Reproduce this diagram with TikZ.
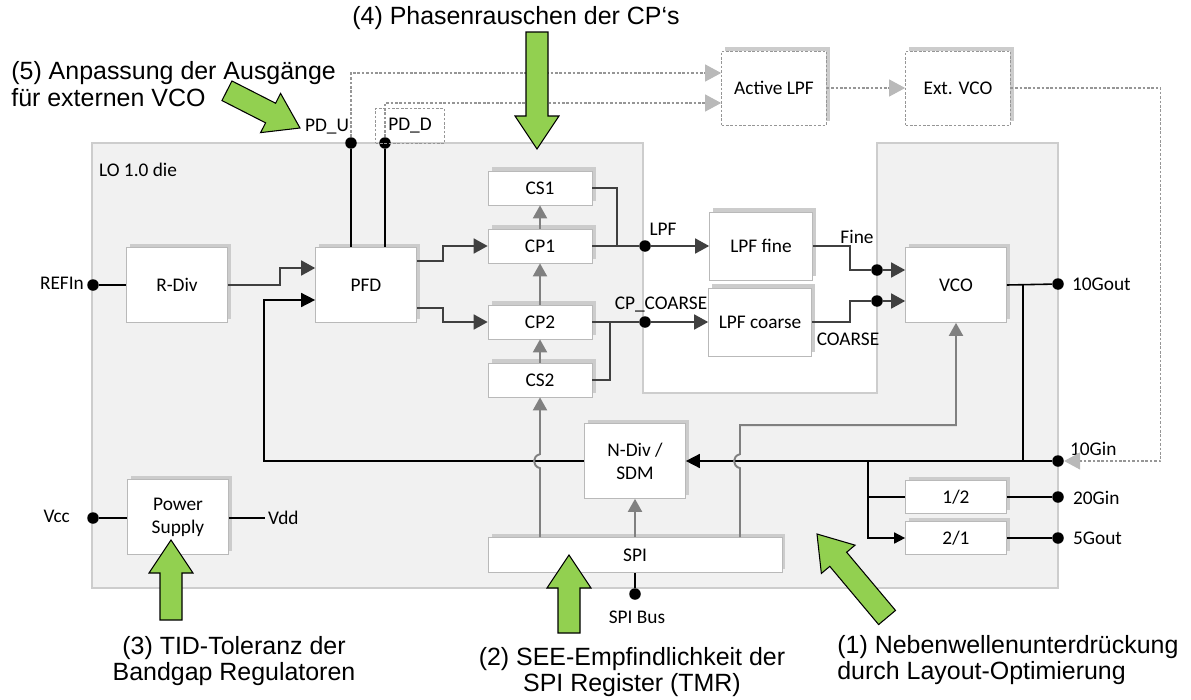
\documentclass[tikz,border=0pt]{standalone}
\usepackage{fontspec}
\setmainfont{Liberation Sans}
\newfontfamily\boxfont{Carlito}
\usetikzlibrary{arrows.meta,shadows,calc}

\definecolor{diegray}{RGB}{241,241,241}
\definecolor{edgegray}{RGB}{205,205,205}
\definecolor{siggray}{RGB}{64,64,64}
\definecolor{ctrlgray}{RGB}{128,128,128}
\definecolor{dashgray}{RGB}{150,150,150}
\definecolor{notegreen}{RGB}{146,208,80}

\tikzset{
  blk/.style={draw=gray!55, fill=white, line width=0.4pt, general shadow={fill=gray!40, shadow xshift=2pt, shadow yshift=2pt}, font=\boxfont\fontsize{11}{13}\selectfont, inner sep=1pt, align=center},
  bigblk/.style={blk, minimum width=2.02cm, minimum height=1.5cm},
  cpblk/.style={blk, minimum width=2.08cm, minimum height=0.68cm},
  lpfblk/.style={blk, minimum width=2.06cm, minimum height=1.36cm},
  divblk/.style={blk, minimum width=2.02cm, minimum height=0.66cm},
  extblk/.style={blk, draw=dashgray, dash pattern=on 1.5pt off 1pt, minimum width=2.1cm, minimum height=1.48cm},
  dashbox/.style={draw=dashgray, dash pattern=on 1.5pt off 1pt, line width=0.6pt, minimum width=1.38cm, minimum height=0.7cm, font=\boxfont\fontsize{11}{13}\selectfont},
  portdot/.style={circle, fill=black, inner sep=0pt, minimum size=0.23cm},
  lbl/.style={font=\boxfont\fontsize{11}{13}\selectfont, inner sep=1pt},
  note/.style={font=\fontsize{14.2}{15}\selectfont, inner sep=0pt},
  die/.style={fill=diegray, draw=edgegray, line width=1.2pt},
  sig/.style={draw=siggray, line width=1pt},
  sigtip/.style={sig, -{Triangle[length=0.28cm,width=0.3cm]}},
  wire/.style={draw=black, line width=0.9pt},
  wiretip/.style={wire, -{Triangle[length=0.28cm,width=0.28cm]}},
  ctrl/.style={draw=ctrlgray, line width=1.1pt, -{Triangle[length=0.26cm,width=0.28cm]}},
  dsh/.style={draw=dashgray, line width=0.6pt, dash pattern=on 1.5pt off 1pt, -{Triangle[length=0.32cm,width=0.34cm,color=gray!55,fill=gray!55]}},
  hint/.style={fill=notegreen, draw=black, line width=0.6pt, line join=miter}
}

% green block arrow: tip, angle, length
\newcommand{\hintarrow}[3]{%
  \draw[hint, shift={#1}, rotate=#2] (0,0) -- (-33,22) -- (-33,11) -- (-#3,11) -- (-#3,-11) -- (-33,-11) -- (-33,-22) -- cycle;}

\begin{document}
\begin{tikzpicture}[x=0.02cm, y=-0.02cm]
\useasboundingbox (0,0) rectangle (1191,700);

% die
\draw[die] (92,143) -- (643,143) -- (643,393) -- (877,393) -- (877,143) -- (1058,143) -- (1058,588) -- (92,588) -- cycle;
\node[lbl, anchor=west] (dielbl) at (97,170) {LO 1.0 die};

% blocks
\node[bigblk] (rdiv) at (177,285) {R-Div};
\node[bigblk] (pfd) at (366,285) {PFD};
\node[cpblk] (cs1) at (540,188) {CS1};
\node[cpblk] (cp1) at (540,246) {CP1};
\node[cpblk] (cp2) at (540,322) {CP2};
\node[cpblk] (cs2) at (540,380) {CS2};
\node[lpfblk] (lpffine) at (761,246) {LPF fine};
\node[lpfblk] (lpfcoarse) at (760,322) {LPF coarse};
\node[bigblk] (vco) at (956,285) {VCO};
\node[bigblk] (ndiv) at (635,461) {N-Div /\\SDM};
\node[bigblk] (psu) at (178,517) {Power\\Supply};
\node[blk, minimum width=5.88cm, minimum height=0.7cm] (spi) at (635,555) {SPI};
\node[divblk] (div12) at (956,497) {1/2};
\node[divblk] (div21) at (956,538) {2/1};
\node[extblk] (alpf) at (774,88) {Active LPF};
\node[extblk] (extvco) at (958,88) {Ext. VCO};

% ports
\node[portdot] (refin) at (93,285) {};
\node[portdot] (vcc) at (93,518) {};
\node[portdot] (pdu) at (351,143) {};
\node[portdot] (pdd) at (385,143) {};
\node[portdot] (lpfpt) at (645,246) {};
\node[portdot] (cpcpt) at (645,322) {};
\node[portdot] (finept) at (877,270) {};
\node[portdot] (coarsept) at (877,301) {};
\node[portdot] (gout10) at (1058,284) {};
\node[portdot] (gin10) at (1058,461) {};
\node[portdot] (gin20) at (1058,497) {};
\node[portdot] (gout5) at (1058,538) {};
\node[portdot] (spibus) at (635,594) {};
\coordinate (vdd) at (265,518);
\coordinate (vtap) at (1023,284);
\coordinate (dtap) at (868,461);

% port labels
\node[lbl, anchor=east] (refinlbl) at (86,283) {REFIn};
\node[lbl, anchor=east] (vcclbl) at (72,516) {Vcc};
\node[lbl, anchor=west] (vddlbl) at (266,518) {Vdd};
\node[lbl, anchor=west] (pdulbl) at (303,127) {PD\_U};
\node[dashbox] (pddlbl) at (410,126) {PD\_D};
\node[lbl] (lpflbl) at (663,229) {LPF};
\node[lbl] (cpclbl) at (661,305) {CP\_COARSE};
\node[lbl] (finelbl) at (857,237) {Fine};
\node[lbl] (coarselbl) at (848,339) {COARSE};
\node[lbl, anchor=west] (gout10lbl) at (1070,284) {10Gout};
\node[lbl, anchor=west] (gin10lbl) at (1068,449) {10Gin};
\node[lbl, anchor=west] (gin20lbl) at (1071,498) {20Gin};
\node[lbl, anchor=west] (gout5lbl) at (1071,538) {5Gout};
\node[lbl] (spibuslbl) at (637,617) {SPI Bus};

% signal path
\draw[wire] (refin) -- (rdiv.west);
\draw[sigtip] (rdiv.east) -- ++(52,0) |- ($(pfd.west)+(0,-17)$);
\draw[sigtip] ($(pfd.east)+(0,-24)$) -- ++(26,0) |- (cp1.west);
\draw[sigtip] ($(pfd.east)+(0,23)$) -- ++(26,0) |- (cp2.west);
\draw[sig] (cp1.east) -- (lpfpt);
\draw[sig] (cs1.east) -- ++(25,0) -- ++(0,58);
\draw[sig] (cp2.east) -- (cpcpt);
\draw[sig] (cs2.east) -- ++(18,0) -- ++(0,-58);
\draw[sigtip] (lpfpt) -- (lpffine.west);
\draw[sigtip] (cpcpt) -- (lpfcoarse.west);
\draw[sig] (lpffine.east) -- ++(37,0) |- (finept);
\draw[sig] (lpfcoarse.east) -- ++(38,0) |- (coarsept);
\draw[sigtip] (finept) -- (finept -| vco.west);
\draw[sigtip] (coarsept) -- (coarsept -| vco.west);

% outputs and feedback
\draw[wire] (pdu) -- (pdu |- pfd.north);
\draw[wire] (pdd) -- (pdd |- pfd.north);
\draw[wire] (vco.east) -- (gout10);
\draw[wire] (vtap) -- (vtap |- gin10);
\draw[wiretip] (gin10) -- (ndiv.east);
\draw[wiretip] (ndiv.west) -- ++(-320,0) |- ($(pfd.west)+(0,15)$);
\draw[wire] (dtap) |- (div12.west);
\draw[wire, -{Triangle[length=0.22cm,width=0.22cm]}] (dtap) |- (div21.west);
\draw[wire] (div12.east) -- (gin20);
\draw[wire] (div21.east) -- (gout5);
\draw[wire] (vcc) -- (psu.west |- vcc);
\draw[wire] (psu.east |- vdd) -- (vdd);
\draw[wire] (spi.south) -- (spibus);

% control lines
\draw[ctrl] (cs2.north) -- (cp2.south);
\draw[ctrl] (cp2.north) -- (cp1.south);
\draw[ctrl] (cp1.north) -- (cs1.south);
\draw[ctrl] (spi.north) -- (ndiv.south);
\draw[ctrl] (spi.north -| cs2.south) -- ++(0,-69) .. controls +(-8,-2) and +(-8,2) .. ++(0,-14) -- (cs2.south);
\draw[ctrl] ($(spi.north)+(105,0)$) -- ++(0,-69) .. controls +(-8,-2) and +(-8,2) .. ++(0,-14) -- ++(0,-29) -| (vco.south);

% external loop
\draw[dsh] (pdu) |- ($(alpf.west)+(0,-15)$);
\draw[dsh] (pdd) |- ($(alpf.west)+(0,15)$);
\draw[dsh] (alpf) -- (extvco);
\draw[dsh] (extvco.east) -- ++(150,0) |- (gin10);

% notes
\hintarrow{(537,149)}{-90}{117}
\hintarrow{(300,128)}{-27}{82}
\hintarrow{(171,540)}{90}{80}
\hintarrow{(569,555)}{90}{78}
\hintarrow{(817,534)}{130}{109}
\node[note] (note4) at (516,18) {(4) Phasenrauschen der CP‘s};
\node[note, align=left, anchor=west] (note5) at (11,84) {(5) Anpassung der Ausgänge\\für externen VCO};
\node[note, align=center] (note3) at (234,661) {(3) TID-Toleranz der\\Bandgap Regulatoren};
\node[note, align=center] (note2) at (632,672) {(2) SEE-Empfindlichkeit der\\SPI Register (TMR)};
\node[note, align=left, anchor=west] (note1) at (837,660) {(1) Nebenwellenunterdrückung\\durch Layout-Optimierung};
\end{tikzpicture}
\end{document}
